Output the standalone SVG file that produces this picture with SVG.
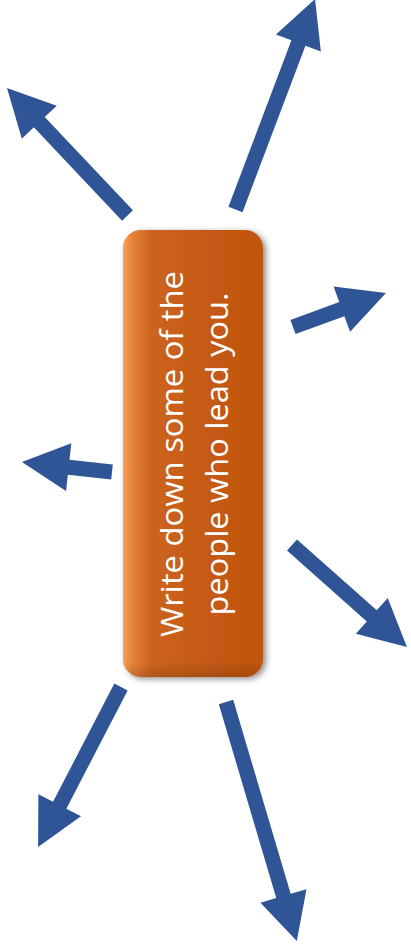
<svg xmlns="http://www.w3.org/2000/svg" width="411" height="947" viewBox="0 0 411 947">
<style>
.arrow{fill:#2F5597;}
.lbl{font-family:"Open Sans","Liberation Sans",sans-serif;font-size:31px;fill:#FFFFFF;text-anchor:middle;}
</style>
<defs>
<linearGradient id="og" x1="0" y1="0" x2="1" y2="0">
<stop offset="0" stop-color="#F9A05A"/>
<stop offset="0.06" stop-color="#E8843A"/>
<stop offset="0.2" stop-color="#CD6420"/>
<stop offset="0.6" stop-color="#C55A13"/>
<stop offset="1" stop-color="#C0560F"/>
</linearGradient>
<linearGradient id="ov" x1="0" y1="0" x2="0" y2="1">
<stop offset="0" stop-color="#000" stop-opacity="0"/>
<stop offset="0.965" stop-color="#000" stop-opacity="0"/>
<stop offset="1" stop-color="#000" stop-opacity="0.15"/>
</linearGradient>
<filter id="sh" x="-20%" y="-10%" width="140%" height="120%">
<feGaussianBlur in="SourceAlpha" stdDeviation="3"/>
<feOffset dx="3" dy="2" result="b"/>
<feComponentTransfer><feFuncA type="linear" slope="0.45"/></feComponentTransfer>
<feMerge><feMergeNode/><feMergeNode in="SourceGraphic"/></feMerge>
</filter>
</defs>
<g id="connectors">
<polygon class="arrow" transform="translate(127.5,215.5) rotate(-133.4)" points="0,-7.5 128.4,-7.5 128.4,-24 175.4,0 128.4,24 128.4,7.5 0,7.5"/>
<polygon class="arrow" transform="translate(235.5,209.5) rotate(-69.3)" points="0,-7.5 178,-7.5 178,-24 225,0 178,24 178,7.5 0,7.5"/>
<polygon class="arrow" transform="translate(293,327) rotate(-20.1)" points="0,-7.5 52,-7.5 52,-24 99,0 52,24 52,7.5 0,7.5"/>
<polygon class="arrow" transform="translate(112,472) rotate(186.3)" points="0,-7.5 43.6,-7.5 43.6,-24 90.6,0 43.6,24 43.6,7.5 0,7.5"/>
<polygon class="arrow" transform="translate(292,545) rotate(41.6)" points="0,-7.5 106.7,-7.5 106.7,-24 153.7,0 106.7,24 106.7,7.5 0,7.5"/>
<polygon class="arrow" transform="translate(121,687) rotate(117.4)" points="0,-7.5 133.2,-7.5 133.2,-24 180.2,0 133.2,24 133.2,7.5 0,7.5"/>
<polygon class="arrow" transform="translate(226,702) rotate(73.5)" points="0,-7.5 202.3,-7.5 202.3,-24 249.3,0 202.3,24 202.3,7.5 0,7.5"/>
</g>
<g id="node-center">
<rect x="123" y="230" width="140" height="447" rx="18" ry="18" fill="url(#og)" filter="url(#sh)"/>
<rect x="123" y="230" width="140" height="447" rx="18" ry="18" fill="url(#ov)"/>
<text class="lbl" transform="translate(0,454) rotate(-90)"><tspan x="0" y="183" textLength="366" lengthAdjust="spacingAndGlyphs">Write down some of the</tspan><tspan x="0" y="228" textLength="323" lengthAdjust="spacingAndGlyphs">people who lead you.</tspan></text>
</g>
</svg>
